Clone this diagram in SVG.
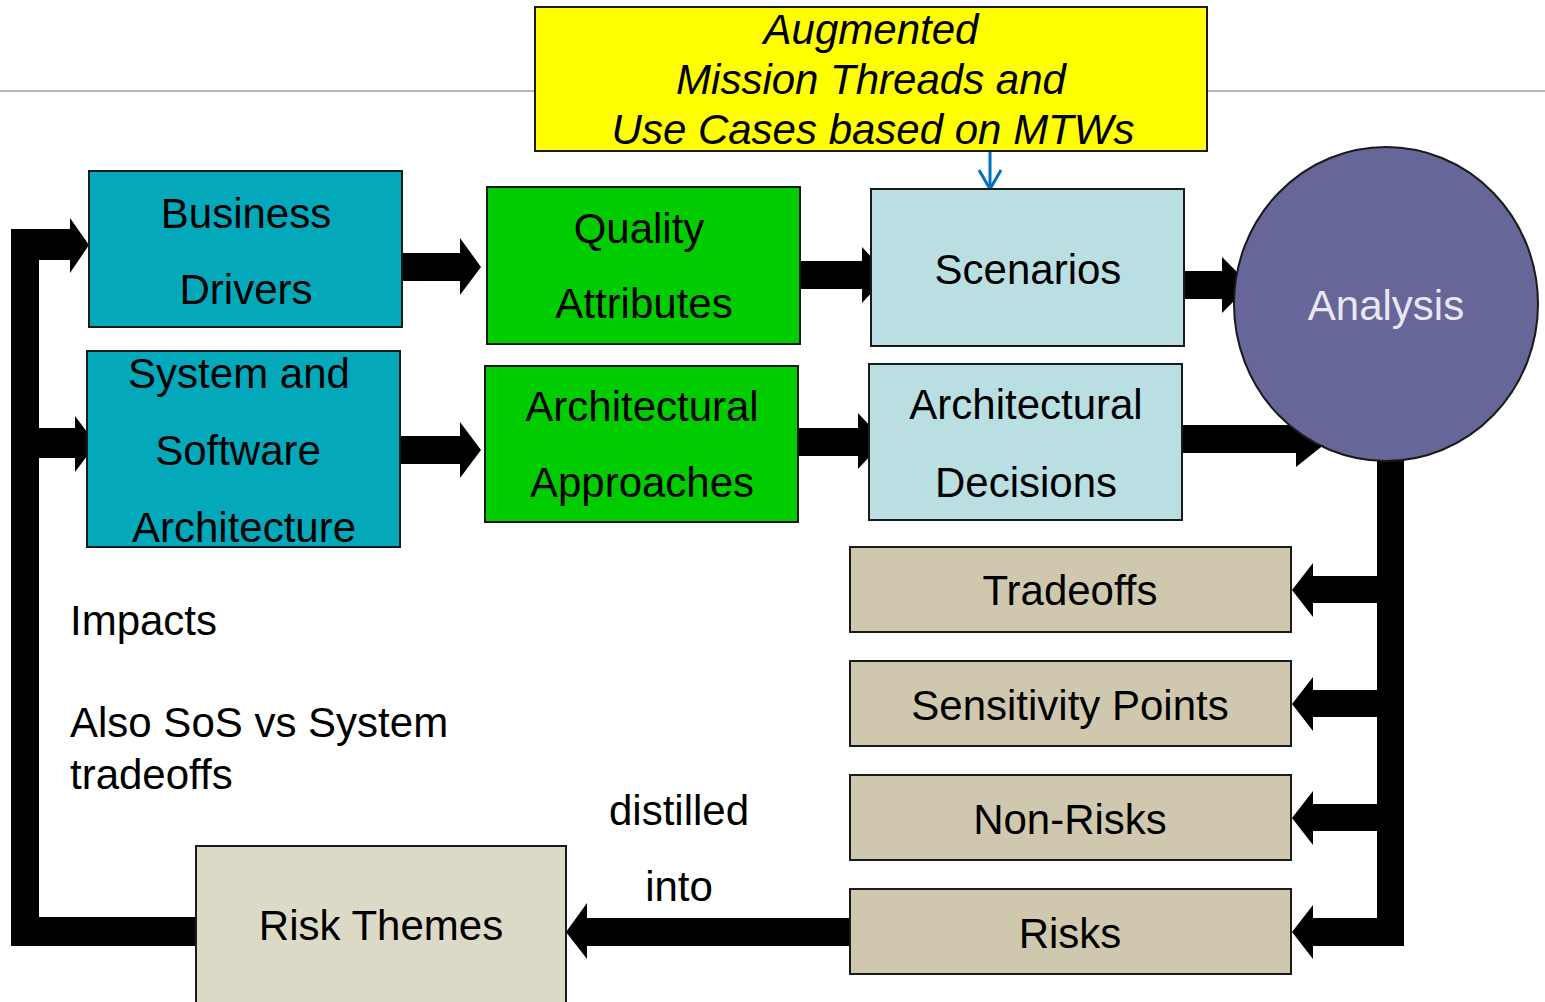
<svg xmlns="http://www.w3.org/2000/svg" width="1545" height="1002" viewBox="0 0 1545 1002">
<defs>
<style>
.t{font-family:"Liberation Sans",Arial,sans-serif;font-size:42px;fill:#000;text-anchor:middle}
.l{font-family:"Liberation Sans",Arial,sans-serif;font-size:42px;fill:#000}
.box{stroke:#1a1a1a;stroke-width:2}
.teal{fill:#03A9BB}
.green{fill:#00CC00}
.lb{fill:#BADFE3}
.tan{fill:#CFC8AE}
.arr{fill:#000}
</style>
<marker id="openv" markerWidth="26" markerHeight="26" refX="20" refY="12" orient="auto" markerUnits="userSpaceOnUse">
<path d="M1,1 L20,12 L1,23" fill="none" stroke="#0070C0" stroke-width="3"/>
</marker>
</defs>
<rect width="1545" height="1002" fill="#fff"/>
<line x1="0" y1="91" x2="1545" y2="91" stroke="#A0A0A0" stroke-width="1.5"/>

<g id="connectors">
<!-- feedback loop -->
<path class="arr" d="M11,229 H39 V917 H200 V946 H11 Z"/>
<path class="arr" d="M39,229 H70 V218 L89,245 L70,273 V260 H39 Z"/>
<path class="arr" d="M39,428 H75 V416 L96,444 L75,472 V458 H39 Z"/>
<!-- row 1 -->
<path class="arr" d="M400,253 H460 V238 L481,267 L460,295 V281 H400 Z"/>
<path class="arr" d="M798,261 H862 V247 L888,275 L862,303 V289 H798 Z"/>
<path class="arr" d="M1182,271 H1222 V257 L1250,285 L1222,313 V299 H1182 Z"/>
<!-- row 2 -->
<path class="arr" d="M398,436 H460 V422 L481,450 L460,478 V464 H398 Z"/>
<path class="arr" d="M796,428 H858 V413 L884,441 L858,469 V456 H796 Z"/>
<path class="arr" d="M1180,425 H1296 V412 L1330,440 L1296,467 V453 H1180 Z"/>
<!-- trunk -->
<path class="arr" d="M1377,440 H1404 V946 H1377 Z"/>
<path class="arr" d="M1380,576 H1313 V563 L1292,590 L1313,617 V603 H1380 Z"/>
<path class="arr" d="M1380,690 H1313 V677 L1292,704 L1313,731 V717 H1380 Z"/>
<path class="arr" d="M1380,804 H1313 V791 L1292,818 L1313,845 V831 H1380 Z"/>
<path class="arr" d="M1380,918 H1313 V905 L1292,932 L1313,959 V946 H1380 Z"/>
<!-- distilled into -->
<path class="arr" d="M852,918 H587 V903 L566,932 L587,959 V946 H852 Z"/>
<!-- MTW to scenarios -->
<line x1="990" y1="151" x2="990" y2="189" stroke="#0070C0" stroke-width="3" marker-end="url(#openv)"/>
</g>

<g id="mtw">
<rect x="535" y="7" width="672" height="144" fill="#FFFF00" stroke="#1a1a1a" stroke-width="2"/>
<text class="t" x="871" y="44" font-style="italic">Augmented</text>
<text class="t" x="871" y="94" font-style="italic">Mission Threads and</text>
<text class="t" x="873" y="144" font-style="italic">Use Cases based on MTWs</text>
</g>

<g id="business-drivers">
<rect class="box teal" x="89" y="171" width="313" height="156"/>
<text class="t" x="246" y="228">Business</text>
<text class="t" x="246" y="304">Drivers</text>
</g>

<g id="system-software">
<rect class="box teal" x="87" y="351" width="313" height="196"/>
<text class="t" x="239" y="388">System and</text>
<text class="t" x="238" y="465">Software</text>
<text class="t" x="244" y="542">Architecture</text>
</g>

<g id="quality-attributes">
<rect class="box green" x="487" y="187" width="313" height="157"/>
<text class="t" x="639" y="243">Quality</text>
<text class="t" x="644" y="318">Attributes</text>
</g>

<g id="arch-approaches">
<rect class="box green" x="485" y="366" width="313" height="156"/>
<text class="t" x="642" y="421">Architectural</text>
<text class="t" x="642" y="497">Approaches</text>
</g>

<g id="scenarios">
<rect class="box lb" x="871" y="189" width="313" height="157"/>
<text class="t" x="1028" y="284">Scenarios</text>
</g>

<g id="arch-decisions">
<rect class="box lb" x="869" y="364" width="313" height="156"/>
<text class="t" x="1026" y="419">Architectural</text>
<text class="t" x="1026" y="497">Decisions</text>
</g>

<g id="analysis">
<ellipse cx="1386" cy="304" rx="152" ry="157" fill="#666699" stroke="#1a1a1a" stroke-width="2"/>
<text class="t" x="1386" y="320" style="fill:#E8E8F2">Analysis</text>
</g>

<g id="tradeoffs">
<rect class="box tan" x="850" y="547" width="441" height="85"/>
<text class="t" x="1070" y="605">Tradeoffs</text>
</g>
<g id="sensitivity-points">
<rect class="box tan" x="850" y="661" width="441" height="85"/>
<text class="t" x="1070" y="720">Sensitivity Points</text>
</g>
<g id="non-risks">
<rect class="box tan" x="850" y="775" width="441" height="85"/>
<text class="t" x="1070" y="834">Non-Risks</text>
</g>
<g id="risks">
<rect class="box tan" x="850" y="889" width="441" height="85"/>
<text class="t" x="1070" y="948">Risks</text>
</g>

<g id="risk-themes">
<rect class="box" x="196" y="846" width="370" height="170" fill="#DDD9C7"/>
<text class="t" x="381" y="940">Risk Themes</text>
</g>

<g id="labels">
<text class="l" x="70" y="635">Impacts</text>
<text class="l" x="70" y="737">Also SoS vs System</text>
<text class="l" x="70" y="789">tradeoffs</text>
<text class="t" x="679" y="825">distilled</text>
<text class="t" x="679" y="901">into</text>
</g>
</svg>
